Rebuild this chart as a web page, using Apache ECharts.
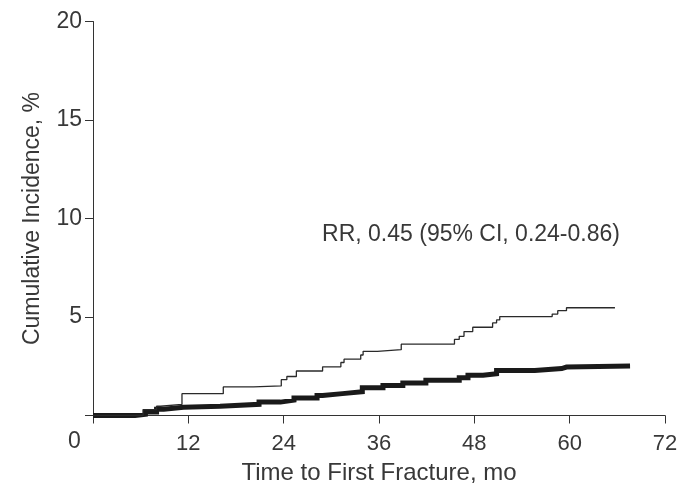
<!DOCTYPE html>
<html>
<head>
<meta charset="utf-8">
<script src="https://cdn.jsdelivr.net/npm/echarts@6/dist/echarts.min.js"></script>
<style>
html,body{margin:0;padding:0;background:#fff;}
#chart{width:687px;height:486px;}
</style>
</head>
<body>
<div id="chart"></div>
<script>
// Data (months, cumulative incidence %)
var thinMonths = [0, 6.3, 8.0, 8.5, 11.2, 16.4, 20.2, 23.7, 24.4, 25.6, 28.9, 31.2, 31.6, 33.7, 34.0, 35.8, 38.8, 45.5, 46.1, 46.7, 47.8, 50.3, 50.8, 51.2, 57.8, 58.5, 59.6, 65.7];
var thinValues = [0, 0.3, 0.47, 0.56, 1.11, 1.45, 1.5, 1.82, 1.98, 2.26, 2.47, 2.69, 2.86, 3.07, 3.26, 3.34, 3.62, 3.86, 4.02, 4.26, 4.48, 4.7, 4.85, 5.02, 5.15, 5.32, 5.47, 5.47];
var thickMonths = [0, 5.3, 6.6, 8.0, 8.9, 11.4, 16.0, 20.9, 23.6, 25.3, 28.2, 28.9, 31.4, 33.9, 36.5, 39.0, 41.9, 46.1, 47.2, 49.1, 50.8, 55.6, 59.0, 59.6, 67.6];
var thickValues = [0, 0.06, 0.18, 0.32, 0.42, 0.47, 0.57, 0.68, 0.78, 0.89, 1.02, 1.11, 1.21, 1.41, 1.52, 1.65, 1.79, 1.92, 2.04, 2.12, 2.29, 2.38, 2.46, 2.51, 2.51];
var xTicks = [0, 12, 24, 36, 48, 60, 72];
var yTicks = [0, 5, 10, 15, 20];
var xTitle = 'Time to First Fracture, mo';
var yTitle = 'Cumulative Incidence, %';
var note = 'RR, 0.45 (95% CI, 0.24-0.86)';

function pairs(xs, ys) { return xs.map(function (x, i) { return [x, ys[i]]; }); }

var FONT = '"Liberation Sans", Arial, sans-serif';
var TXT = '#383838';
var chart = echarts.init(document.getElementById('chart'), null, {renderer: 'canvas'});
chart.setOption({
  animation: false,
  backgroundColor: '#fff',
  grid: {left: 93, top: 21.5, width: 572, height: 394, containLabel: false, outerBoundsMode: 'none'},
  xAxis: {
    type: 'value', min: xTicks[0], max: xTicks[xTicks.length - 1], interval: 12,
    axisLine: {show: true, onZero: false, lineStyle: {color: '#333', width: 1}},
    axisTick: {show: true, length: 8, lineStyle: {color: '#333', width: 1}},
    axisLabel: {show: true, margin: 17, color: TXT, fontSize: 22, fontFamily: FONT,
      formatter: function (v) { return v === 0 ? '' : String(v); }},
    splitLine: {show: false},
    name: xTitle, nameLocation: 'middle', nameGap: 46,
    nameTextStyle: {color: TXT, fontSize: 24, fontFamily: FONT}
  },
  yAxis: {
    type: 'value', min: yTicks[0], max: yTicks[yTicks.length - 1], interval: 5,
    axisLine: {show: true, onZero: false, lineStyle: {color: '#333', width: 1}},
    axisTick: {show: true, length: 8, lineStyle: {color: '#333', width: 1}},
    axisLabel: {show: true, margin: 11, color: TXT, fontSize: 23, fontFamily: FONT,
      formatter: function (v) { return v === 0 ? '' : String(v); }},
    splitLine: {show: false},
    name: yTitle, nameLocation: 'middle', nameGap: 49,
    nameTextStyle: {color: TXT, fontSize: 23, fontFamily: FONT}
  },
  graphic: [
    {type: 'text', left: 68, top: 430, style: {text: String(yTicks[0]), fill: TXT, font: '23px ' + FONT}},
    {type: 'text', x: 471, y: 235, style: {text: note, fill: TXT, font: '23px ' + FONT, textAlign: 'center', textVerticalAlign: 'middle'}}
  ],
  series: [
    {type: 'line', step: 'end', data: pairs(thinMonths, thinValues), symbol: 'none',
      lineStyle: {color: '#2a2a2a', width: 1.3}, z: 3},
    {type: 'line', step: 'end', data: pairs(thickMonths, thickValues), symbol: 'none',
      lineStyle: {color: '#1a1a1a', width: 5, cap: 'butt', join: 'miter'}, z: 2}
  ]
});
</script>
</body>
</html>
